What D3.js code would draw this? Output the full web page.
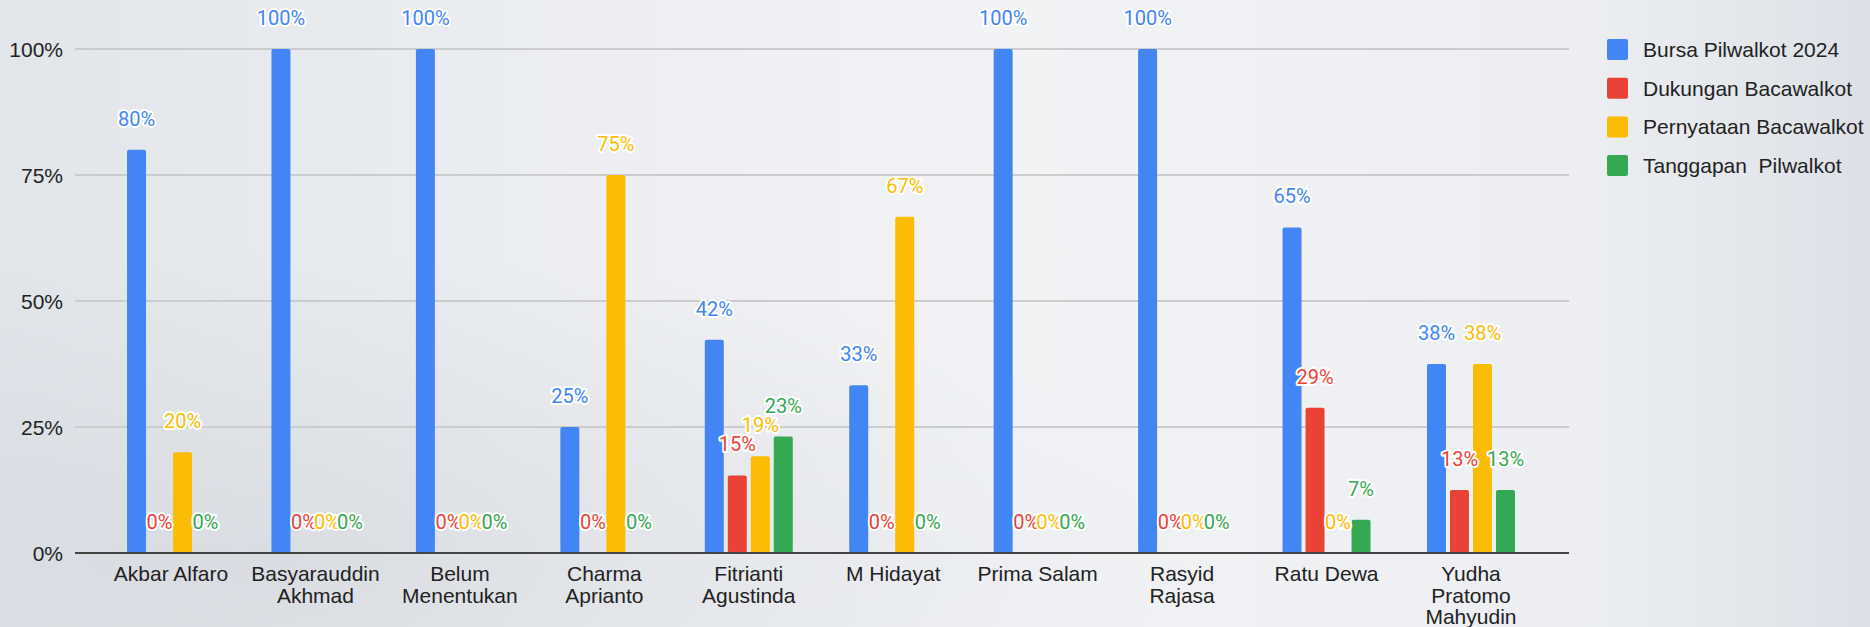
<!DOCTYPE html>
<html>
<head>
<meta charset="utf-8">
<script src="https://cdn.jsdelivr.net/npm/d3@7"></script>
<style>
  html, body { margin: 0; padding: 0; }
  body { width: 1870px; height: 627px; overflow: hidden; }
</style>
</head>
<body>
<div id="chart"></div>
<script>
// data
var categories = ["Akbar Alfaro", "Basyarauddin Akhmad", "Belum Menentukan", "Charma Aprianto",
  "Fitrianti Agustinda", "M Hidayat", "Prima Salam", "Rasyid Rajasa", "Ratu Dewa", "Yudha Pratomo Mahyudin"];
var seriesNames = ["Bursa Pilwalkot 2024", "Dukungan Bacawalkot", "Pernyataan Bacawalkot", "Tanggapan  Pilwalkot"];
var seriesColors = ["#4285f4", "#ea4335", "#fbbc04", "#34a853"];
var bursa      = [0.80, 1.00, 1.00, 0.25, 0.423, 0.333, 1.00, 1.00, 0.646, 0.375];
var dukungan   = [0.00, 0.00, 0.00, 0.00, 0.154, 0.00, 0.00, 0.00, 0.288, 0.125];
var pernyataan = [0.20, 0.00, 0.00, 0.75, 0.192, 0.667, 0.00, 0.00, 0.00, 0.375];
var tanggapan  = [0.00, 0.00, 0.00, 0.00, 0.231, 0.00, 0.00, 0.00, 0.066, 0.125];
var yTicks = [0, 0.25, 0.5, 0.75, 1];

var seriesValues = [bursa, dukungan, pernyataan, tanggapan];

var W = 1870, H = 627;
var svg = d3.select('#chart').append('svg')
  .attr('width', W)
  .attr('height', H);

// background
var defs = svg.append('defs');
var bg = defs.append('linearGradient').attr('id', 'bg').attr('x1', 0).attr('x2', 1).attr('y1', 0).attr('y2', 0);
[["0%", "#e2e5ea"], ["30%", "#eceef1"], ["55%", "#f2f3f5"], ["85%", "#eceef1"], ["100%", "#dde1e7"]].forEach(function(s) {
  bg.append('stop').attr('offset', s[0]).attr('stop-color', s[1]);
});
var shade = defs.append('radialGradient').attr('id', 'shade').attr('cx', 0.15).attr('cy', 0.9).attr('r', 0.5);
shade.append('stop').attr('offset', '0%').attr('stop-color', '#c9cdd4').attr('stop-opacity', 0.45);
shade.append('stop').attr('offset', '100%').attr('stop-color', '#c9cdd4').attr('stop-opacity', 0);
svg.append('rect').attr('width', W).attr('height', H).attr('fill', 'url(#bg)');
svg.append('rect').attr('width', W).attr('height', H).attr('fill', 'url(#shade)');

var gridLeft = 75, gridRight = 1569;
var x0 = d3.scaleBand().domain(categories).range([98.8, 1543.2]);
var x1 = d3.scaleBand().domain(seriesNames).range([-44, 44]).paddingInner(4 / 23);
var y = d3.scaleLinear().domain([0, 1]).range([553, 49]);
var pct = d3.format(".0%");

// gridlines
svg.append('g').selectAll('line')
  .data(yTicks.filter(function(t) { return t > 0; }))
  .enter().append('line')
  .attr('x1', gridLeft).attr('x2', gridRight)
  .attr('y1', function(d) { return y(d); }).attr('y2', function(d) { return y(d); })
  .attr('stroke', '#cbccce').attr('stroke-width', 2);

// y tick labels
svg.append('g').selectAll('text')
  .data(yTicks)
  .enter().append('text')
  .attr('x', 63)
  .attr('y', function(d) { return y(d) + 7.5; })
  .attr('text-anchor', 'end')
  .style('font-family', 'Liberation Sans, Arial, sans-serif')
  .style('font-size', '21px')
  .attr('fill', '#222')
  .text(function(d) { return pct(d); });

// bars
var groups = svg.append('g').selectAll('g')
  .data(categories)
  .enter().append('g')
  .attr('transform', function(c) { return 'translate(' + (x0(c) + x0.bandwidth() / 2) + ',0)'; });

groups.selectAll('rect')
  .data(function(c, i) { return seriesNames.map(function(s, k) { return { s: s, k: k, v: seriesValues[k][i] }; }); })
  .enter().append('rect')
  .filter(function(d) { return d.v > 0; })
  .attr('x', function(d) { return x1(d.s); })
  .attr('width', x1.bandwidth())
  .attr('y', function(d) { return y(d.v); })
  .attr('height', function(d) { return y(0) - y(d.v); })
  .attr('rx', 2)
  .attr('fill', function(d) { return seriesColors[d.k]; });

// baseline
svg.append('line')
  .attr('x1', gridLeft).attr('x2', gridRight)
  .attr('y1', y(0)).attr('y2', y(0))
  .attr('stroke', '#444').attr('stroke-width', 2);

// value labels
groups.selectAll('text.val')
  .data(function(c, i) { return seriesNames.map(function(s, k) { return { s: s, k: k, v: seriesValues[k][i] }; }); })
  .enter().append('text')
  .attr('class', 'val')
  .attr('x', function(d) { return x1(d.s) + x1.bandwidth() / 2; })
  .attr('y', function(d) { return y(d.v) - 24; })
  .attr('text-anchor', 'middle')
  .style('font-family', 'Roboto, sans-serif')
  .style('font-size', '20px')
  .style('paint-order', 'stroke')
  .attr('stroke', '#fff').attr('stroke-width', 4).attr('stroke-linejoin', 'round')
  .attr('fill', function(d) { return seriesColors[d.k]; })
  .text(function(d) { return pct(d.v); });

// category labels, wrapped
var catLabels = svg.append('g').selectAll('text')
  .data(categories)
  .enter().append('text')
  .attr('x', function(c) { return x0(c) + x0.bandwidth() / 2; })
  .attr('y', 581)
  .attr('text-anchor', 'middle')
  .style('font-family', 'Liberation Sans, Arial, sans-serif')
  .style('font-size', '21px')
  .attr('fill', '#222');

catLabels.each(function(c) {
  var el = d3.select(this);
  var cx = el.attr('x');
  var words = c.split(' ');
  var lines = [], cur = [];
  var probe = el.append('tspan');
  words.forEach(function(w) {
    var test = cur.concat([w]).join(' ');
    probe.text(test);
    if (cur.length && probe.node().getComputedTextLength() > 128) {
      lines.push(cur.join(' '));
      cur = [w];
    } else {
      cur.push(w);
    }
  });
  lines.push(cur.join(' '));
  probe.remove();
  lines.forEach(function(l, i) {
    el.append('tspan').attr('x', cx).attr('dy', i === 0 ? 0 : 21.5).text(l);
  });
});

// legend
var legend = svg.append('g').attr('transform', 'translate(1607,39)');
var item = legend.selectAll('g')
  .data(seriesNames)
  .enter().append('g')
  .attr('transform', function(d, i) { return 'translate(0,' + (i * 38.7) + ')'; });
item.append('rect')
  .attr('width', 21).attr('height', 21).attr('rx', 2)
  .attr('fill', function(d, i) { return seriesColors[i]; });
item.append('text')
  .attr('x', 36).attr('y', 18)
  .style('font-family', 'Liberation Sans, Arial, sans-serif')
  .style('font-size', '21px')
  .style('white-space', 'pre')
  .attr('fill', '#222')
  .text(function(d) { return d; });
</script>
</body>
</html>
